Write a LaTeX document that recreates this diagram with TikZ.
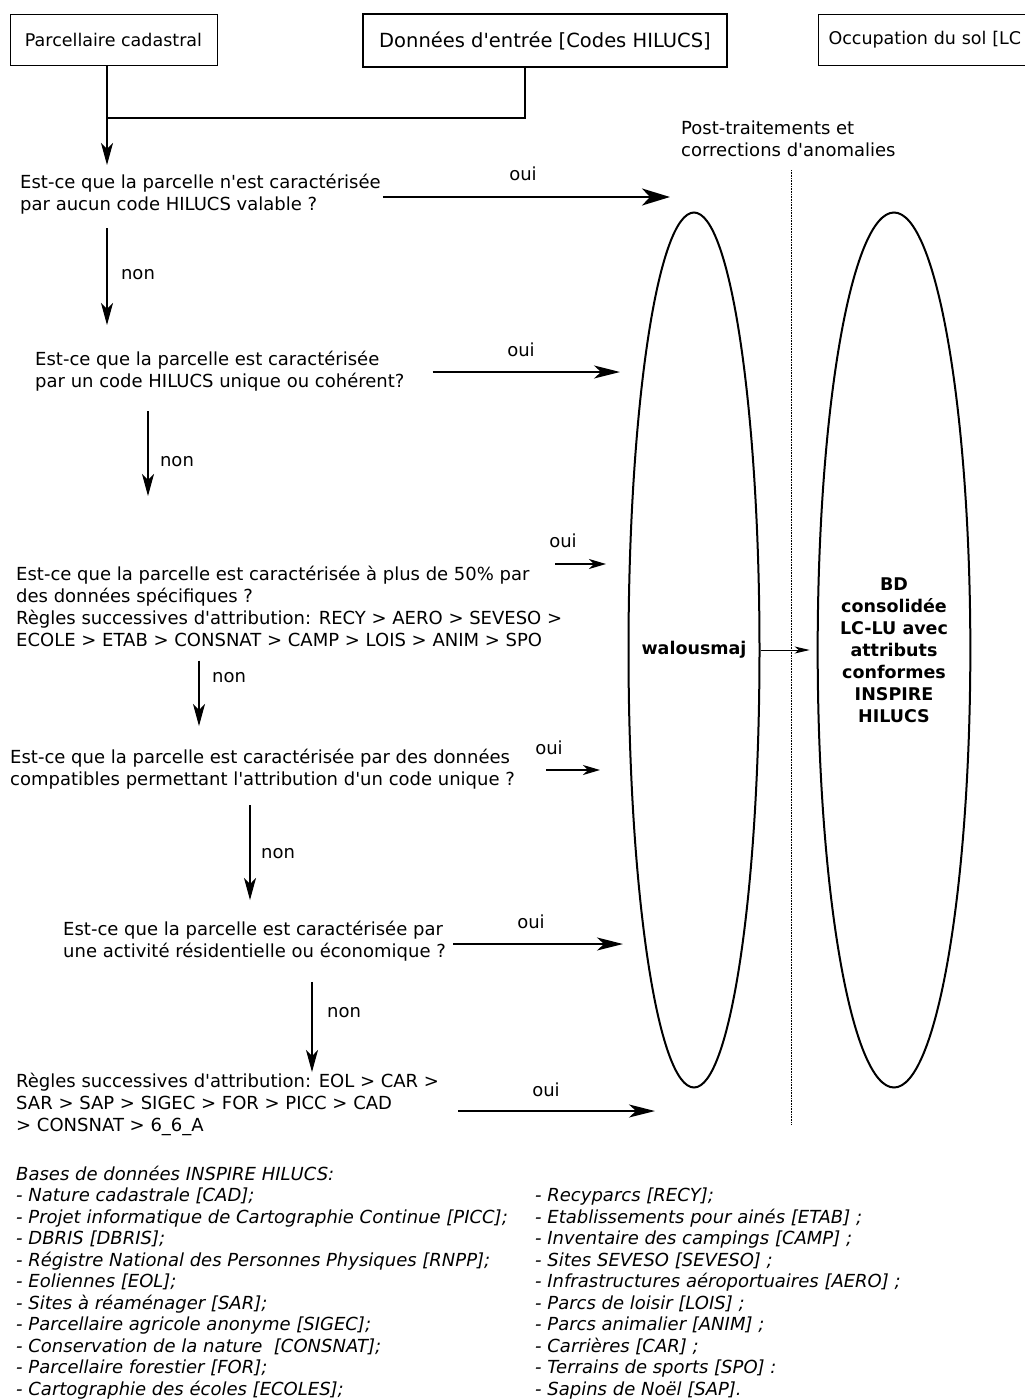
\documentclass[tikz,border=0pt]{standalone}
\usepackage{fontspec}
\setmainfont{DejaVu Sans}[Ligatures=TeXOff]
\usetikzlibrary{arrows.meta,shapes.geometric}
\tikzset{
  txt/.style={font=\fontsize{18}{22}\selectfont, inner sep=0pt, align=left, anchor=west},
  lbl/.style={font=\fontsize{18}{22}\selectfont, inner sep=0pt},
  srcbox/.style={draw, line width=1pt, inner sep=0pt, font=\fontsize{17.5}{22}\selectfont},
  ovale/.style={draw, ellipse, line width=2pt, minimum width=131pt, minimum height=875pt, inner sep=0pt},
  gras/.style={font=\bfseries\fontsize{17.5}{22}\selectfont, align=center, inner sep=0pt},
  liste/.style={font=\itshape\fontsize{18}{21.5}\selectfont, inner sep=0pt, align=left, anchor=west},
  lien/.style={line width=1.2pt},
  nonarrow/.style={line width=1.2pt, -{Stealth[length=22pt,width=12pt,inset=6pt]}},
  ouiarrow/.style={line width=1.8pt, -{Stealth[length=26pt,width=13pt,inset=7pt]}},
  ouibig/.style={line width=2.6pt, -{Stealth[length=28pt,width=17pt,inset=8pt]}},
  ouipetit/.style={line width=1.3pt, -{Stealth[length=17pt,width=10pt,inset=5pt]}},
  fleche/.style={line width=1pt, -{Stealth[length=15pt,width=7pt,inset=4pt]}}
}
\begin{document}
\begin{tikzpicture}[x=1pt,y=-1pt]
\useasboundingbox[fill=white] (0,0) rectangle (1025,1400);

\node[srcbox, minimum width=207pt, minimum height=51pt] (cad) at (113.5,39.5) {Parcellaire cadastral};
\node[srcbox, line width=1.5pt, minimum width=364pt, minimum height=53pt, font=\fontsize{19.5}{24}\selectfont] (hil) at (545,40.5) {Données d'entrée [Codes HILUCS]};
\node[srcbox, anchor=west, minimum height=51pt, text width=220pt, align=left, inner xsep=10pt] (occ) at (818,39.5) {Occupation du sol [LC};

\coordinate (jn) at (107,118);
\coordinate (q1in) at (107,165);
\draw[lien] ([xshift=-20]hil.south) |- (jn);
\draw[nonarrow] (cad.south -| jn) -- (q1in);

\node[txt] (post) at (681,139) {Post-traitements et\\corrections d'anomalies};
\draw[densely dotted, line width=0.6pt] (791,170) -- (791,1125);

\node[ovale] (wal) at (694,650) {};
\node[ovale, gras] (bd) at (894,650) {BD\\consolidée\\LC-LU avec\\attributs\\conformes\\INSPIRE\\HILUCS};
\node[gras] (walt) at (694,650) {walousmaj};
\draw[fleche] ([xshift=14]walt.east) -- ([xshift=-7]bd.west);

% questions
\node[txt] (q1) at (20,194) {Est-ce que la parcelle n'est caractérisée\\par aucun code HILUCS valable ?};
\node[txt] (q2) at (35,371) {Est-ce que la parcelle est caractérisée\\par un code HILUCS unique ou cohérent?};
\node[txt] (q3) at (16,606) {Est-ce que la parcelle est caractérisée à plus de 50\% par\\des données spécifiques ?\\Règles successives d'attribution: RECY > AERO > SEVESO >\\ECOLE > ETAB > CONSNAT > CAMP > LOIS > ANIM > SPO};
\node[txt] (q4) at (10,769) {Est-ce que la parcelle est caractérisée par des données\\compatibles permettant l'attribution d'un code unique ?};
\node[txt] (q5) at (63,941.5) {Est-ce que la parcelle est caractérisée par\\une activité résidentielle ou économique ?};
\node[txt] (q6) at (16,1104.5) {Règles successives d'attribution: EOL > CAR >\\SAR > SAP > SIGEC > FOR > PICC > CAD\\> CONSNAT > 6\_6\_A};

% oui
\coordinate (o1) at (670,197);
\coordinate (o2) at (620,372);
\coordinate (o3) at (606,564);
\coordinate (o4) at (600,770);
\coordinate (o5) at (623,944);
\coordinate (o6) at (655,1111);
\draw[ouibig] ([xshift=2]q1.east |- o1) -- (o1);
\draw[ouiarrow] ([xshift=28]q2.east |- o2) -- (o2);
\draw[ouipetit] ([xshift=-7]q3.east |- o3) -- (o3);
\draw[ouipetit] ([xshift=31]q4.east |- o4) -- (o4);
\draw[ouiarrow] ([xshift=7]q5.east |- o5) -- (o5);
\draw[ouiarrow] ([xshift=19]q6.east |- o6) -- (o6);
\node[lbl] (l1) at (523,174) {oui};
\node[lbl] (l2) at (521,350) {oui};
\node[lbl] (l3) at (563,541) {oui};
\node[lbl] (l4) at (549,748) {oui};
\node[lbl] (l5) at (531,922) {oui};
\node[lbl] (l6) at (546,1090) {oui};

% non
\coordinate (n1) at (107,325);
\coordinate (n2) at (148,496);
\coordinate (n3) at (199,726);
\coordinate (n4) at (250,900);
\coordinate (n5) at (312,1072);
\draw[nonarrow] ([yshift=-14]q1.south -| n1) -- (n1);
\draw[nonarrow] ([yshift=-20]q2.south -| n2) -- (n2);
\draw[nonarrow] ([yshift=-14]q3.south -| n3) -- (n3);
\draw[nonarrow] ([yshift=-16]q4.south -| n4) -- (n4);
\draw[nonarrow] ([yshift=-20]q5.south -| n5) -- (n5);
\node[lbl] (m1) at (138,275) {non};
\node[lbl] (m2) at (177,462) {non};
\node[lbl] (m3) at (229,678) {non};
\node[lbl] (m4) at (278,854) {non};
\node[lbl] (m5) at (344,1013) {non};

\node[liste] (bases) at (16,1282.5) {Bases de données INSPIRE HILUCS:\\- Nature cadastrale [CAD];\\- Projet informatique de Cartographie Continue [PICC];\\- DBRIS [DBRIS];\\- Régistre National des Personnes Physiques [RNPP];\\- Eoliennes [EOL];\\- Sites à réaménager [SAR];\\- Parcellaire agricole anonyme [SIGEC];\\- Conservation de la nature\ \ [CONSNAT];\\- Parcellaire forestier [FOR];\\- Cartographie des écoles [ECOLES];};
\node[liste] (bases2) at (535,1293.5) {- Recyparcs [RECY];\\- Etablissements pour ainés [ETAB] ;\\- Inventaire des campings [CAMP] ;\\- Sites SEVESO [SEVESO] ;\\- Infrastructures aéroportuaires [AERO] ;\\- Parcs de loisir [LOIS] ;\\- Parcs animalier [ANIM] ;\\- Carrières [CAR] ;\\- Terrains de sports [SPO] :\\- Sapins de Noël [SAP].};
\end{tikzpicture}
\end{document}
